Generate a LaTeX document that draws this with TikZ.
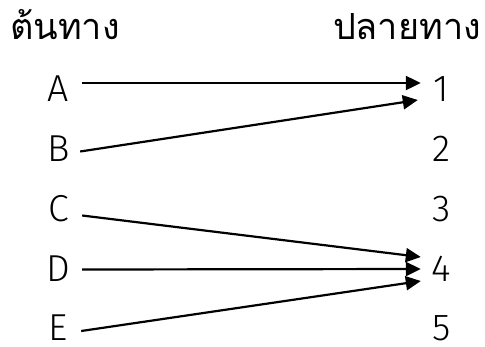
\documentclass[tikz,border=0pt]{standalone}
\usepackage{fontspec}
\setmainfont[Script=Thai]{Loma}
\newfontfamily\latlight{Fira Sans}[UprightFont=* Light]
\usetikzlibrary{arrows.meta}
\begin{document}
\begin{tikzpicture}[x=1pt,y=-1pt,
  lbl/.style={font=\latlight\fontsize{37.5}{40}\selectfont, inner sep=0pt, text height=26pt, text depth=0pt, anchor=base},
  src/.style={lbl, minimum width=47pt},
  dst/.style={lbl, minimum width=41pt},
  ttl/.style={font=\fontsize{36}{40}\selectfont, inner sep=0pt},
  arr/.style={line width=2.2pt, -{Triangle[length=15pt,width=14pt]}}]
\useasboundingbox (0,0) rectangle (485,346);
\node[ttl, anchor=base west] (t1) at (10,39) {ต้นทาง};
\node[ttl, anchor=base east] (t2) at (481,39) {ปลายทาง};
\foreach \n/\y in {A/101,B/161,C/221,D/281,E/340}{
  \node[src] (\n) at (58.5,\y) {\n};
}
\foreach \n/\y in {1/101,2/161,3/221,4/281,5/340}{
  \node[dst] (n\n) at (441.5,\y) {\n};
}
\draw[arr] ([yshift=5pt]A.east) -- ([yshift=5pt]n1.west);
\draw[arr] ([xshift=-2pt,yshift=-3.5pt]B.east) -- ([xshift=-3pt,yshift=-12pt]n1.west);
\draw[arr] ([yshift=-7.5pt]C.east) -- ([yshift=11pt]n4.west);
\draw[arr] ([yshift=-1.5pt]D.east) -- ([yshift=-1pt]n4.west);
\draw[arr] ([xshift=-1pt,yshift=-4pt]E.east) -- ([yshift=-13pt]n4.west);
\end{tikzpicture}
\end{document}
